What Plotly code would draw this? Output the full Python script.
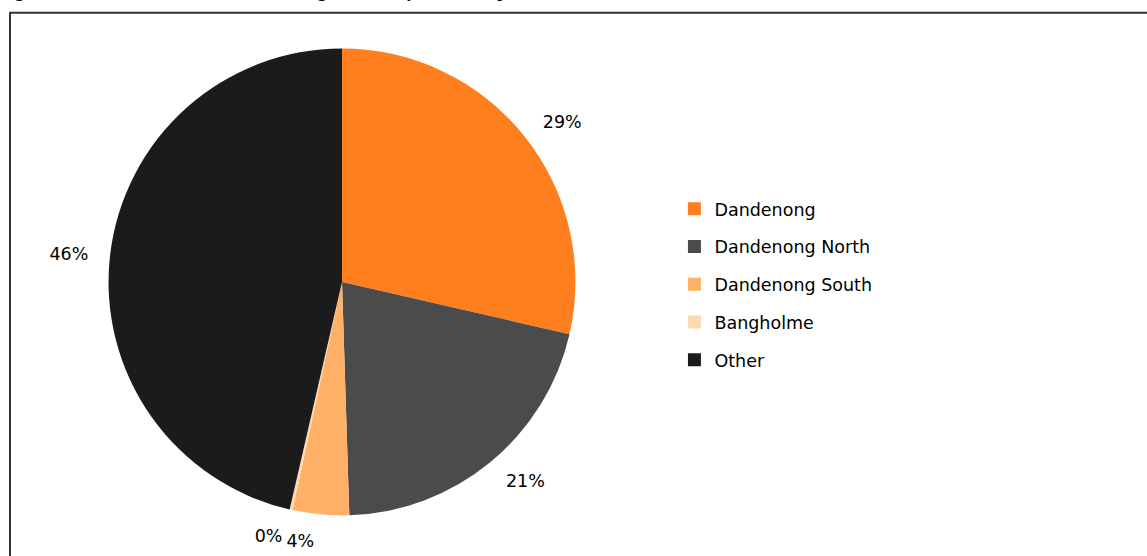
import plotly.graph_objects as go

# Data (share of total, %)
categories = ["Dandenong", "Dandenong North", "Dandenong South", "Bangholme", "Other"]
values = [28.6, 20.9, 3.9, 0.2, 46.4]
colors = ["#FF7F1E", "#4B4B4B", "#FFB168", "#FFD9B0", "#1B1B1B"]
title_text = "Figure 3: Residential Location of Dandenong Workers by Suburb of place"

W, H = 1147, 556
CX, CY, R = 342, 285, 236      # pie centre / radius in px
RL = 253                      # radius of the (invisible) label ring
LABEL_FONT = dict(family="DejaVu Sans, Liberation Sans, sans-serif", size=17.5, color="#000000")


def dom(r):
    return dict(x=[(CX - r) / W, (CX + r) / W], y=[1 - (CY + r) / H, 1 - (CY - r) / H])


fig = go.Figure()

# invisible ring carrying the percentage labels (all but the tiny slice)
fig.add_trace(go.Pie(
    labels=categories, values=values, sort=False, direction="clockwise", rotation=0,
    marker=dict(colors=["rgba(0,0,0,0)"] * len(values), line=dict(width=0)),
    textposition="outside",
    texttemplate=["%{percent:.0%}" if c != "Bangholme" else "" for c in categories],
    outsidetextfont=LABEL_FONT, showlegend=False, hoverinfo="skip", domain=dom(RL),
))
# invisible ring carrying the tiny slice's label (so it is not pushed by its neighbour)
fig.add_trace(go.Pie(
    labels=categories, values=values, sort=False, direction="clockwise", rotation=0,
    marker=dict(colors=["rgba(0,0,0,0)"] * len(values), line=dict(width=0)),
    textposition="outside",
    texttemplate=["%{percent:.0%}" if c == "Bangholme" else "" for c in categories],
    outsidetextfont=LABEL_FONT, showlegend=False, hoverinfo="skip", domain=dom(RL),
))

# the visible pie
fig.add_trace(go.Pie(
    labels=categories, values=values, sort=False, direction="clockwise", rotation=0,
    marker=dict(colors=colors, line=dict(width=0)),
    textinfo="none", showlegend=False, hoverinfo="label+percent", domain=dom(R),
))

# Legend entries (one per category, spaced like the reference)
for i, (cat, col) in enumerate(zip(categories, colors)):
    fig.add_trace(go.Scatter(
        x=[None], y=[None], mode="markers", name=cat,
        marker=dict(symbol="square", size=13, color=col),
        legendgroup=f"g{i}", showlegend=True,
    ))

fig.update_layout(
    width=W, height=H,
    margin=dict(l=0, r=0, t=0, b=0),
    paper_bgcolor="white",
    plot_bgcolor="white",
    xaxis=dict(visible=False),
    yaxis=dict(visible=False),
    font=LABEL_FONT,
    legend=dict(
        x=0.588, y=1 - 193 / H, xanchor="left", yanchor="top",
        font=LABEL_FONT,
        tracegroupgap=12,
        bgcolor="rgba(0,0,0,0)",
    ),
    shapes=[dict(
        type="rect", xref="paper", yref="paper",
        x0=10 / W, x1=1.05, y0=-0.05, y1=1 - 13 / H,
        line=dict(color="#333333", width=2), fillcolor="rgba(0,0,0,0)",
        layer="below",
    )],
    annotations=[dict(
        text="<b>" + title_text + "</b>", xref="paper", yref="paper",
        x=-2 / W, y=1 - 3 / H, xanchor="left", yanchor="bottom",
        showarrow=False,
        font=dict(family="Liberation Serif, Times New Roman, serif", size=17, color="#000000"),
    )],
)

fig.write_html(
    "out.html",
    config={"displayModeBar": False},
    post_script="document.body.style.margin='0';document.body.style.overflow='hidden';",
)
